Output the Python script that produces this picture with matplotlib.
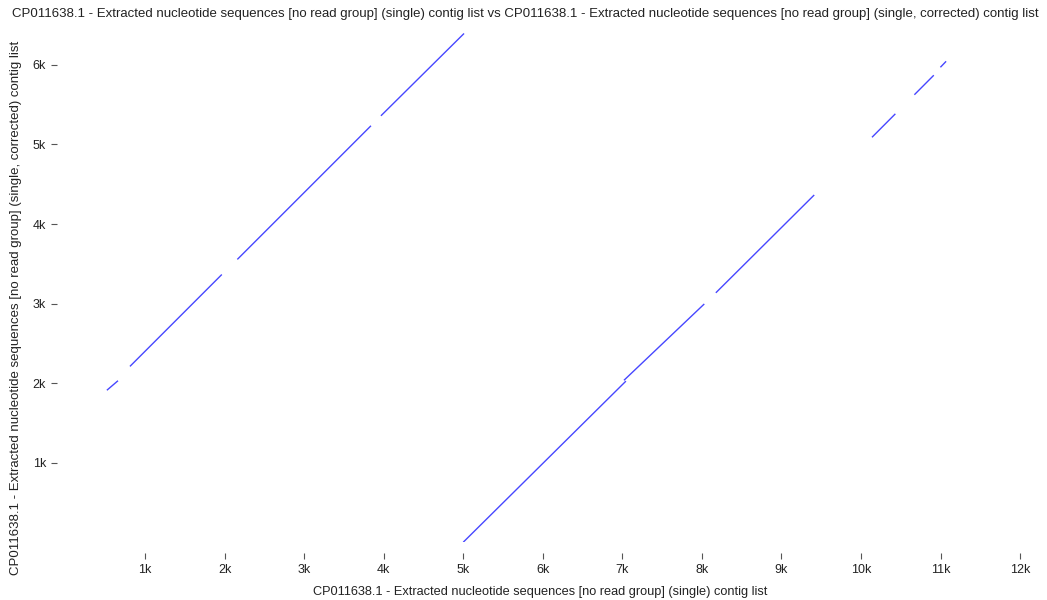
import matplotlib
matplotlib.use("Agg")
import matplotlib.pyplot as plt

plt.rcParams["font.family"] = ["Liberation Sans", "DejaVu Sans"]

name_x = "CP011638.1 - Extracted nucleotide sequences [no read group] (single) contig list"
name_y = "CP011638.1 - Extracted nucleotide sequences [no read group] (single, corrected) contig list"

# alignment segments: start/end positions on the two sequences (bp)
x_start = [520, 810, 2160, 3965, 5000, 7020, 8175, 10138, 10671, 10998]
x_end = [660, 1965, 3840, 5010, 7045, 8030, 9412, 10432, 10915, 11070]
y_start = [1910, 2210, 3555, 5360, 0, 2035, 3135, 5090, 5625, 5970]
y_end = [2030, 3365, 5235, 6395, 2025, 2995, 4365, 5385, 5870, 6045]

x_ticks = [1000, 2000, 3000, 4000, 5000, 6000, 7000, 8000, 9000, 10000, 11000, 12000]
x_tick_labels = ["1k", "2k", "3k", "4k", "5k", "6k", "7k", "8k", "9k", "10k", "11k", "12k"]
y_ticks = [1000, 2000, 3000, 4000, 5000, 6000]
y_tick_labels = ["1k", "2k", "3k", "4k", "5k", "6k"]

W, H = 1047, 600
fig = plt.figure(figsize=(W / 100, H / 100), dpi=100)

# axes placed in pixels so 1k ~ 79.5 px on both axes
left_px, bottom_px = 65.5, 542.2
xmax, ymax = 12150, 6500
px_per_bp = 79.55 / 1000
ax_w = xmax * px_per_bp
ax_h = ymax * px_per_bp
ax = fig.add_axes([left_px / W, (H - bottom_px) / H, ax_w / W, ax_h / H])

for xs, xe, ys, ye in zip(x_start, x_end, y_start, y_end):
    ax.plot([xs, xe], [ys, ye], color="#0000ff", alpha=0.72, linewidth=1.0,
            solid_capstyle="butt")

ax.set_xlim(0, xmax)
ax.set_ylim(0, ymax)
ax.set_xticks(x_ticks)
ax.set_xticklabels(x_tick_labels)
ax.set_yticks(y_ticks)
ax.set_yticklabels(y_tick_labels)

for side in ["top", "right", "bottom", "left"]:
    ax.spines[side].set_visible(False)
ax.spines["bottom"].set_position(("outward", 8))
ax.spines["left"].set_position(("outward", 6))
ax.tick_params(axis="both", length=4, width=0.8, color="#555555",
               labelsize=9, labelcolor="#222222", pad=4)

ax.set_xlabel(name_x, fontsize=9.2, color="#222222", va="center")
ax.set_ylabel(name_y, fontsize=9.5, color="#222222", va="center")
ax.xaxis.set_label_coords((540 - left_px) / ax_w, (bottom_px - 592) / ax_h)
ax.yaxis.set_label_coords((16 - left_px) / ax_w, (bottom_px - 308) / ax_h)
fig.text((525 / W), 1 - 14 / H, name_x + " vs " + name_y, ha="center", va="center",
         fontsize=9.5, color="#222222")

fig.savefig("out.png", dpi=100)
